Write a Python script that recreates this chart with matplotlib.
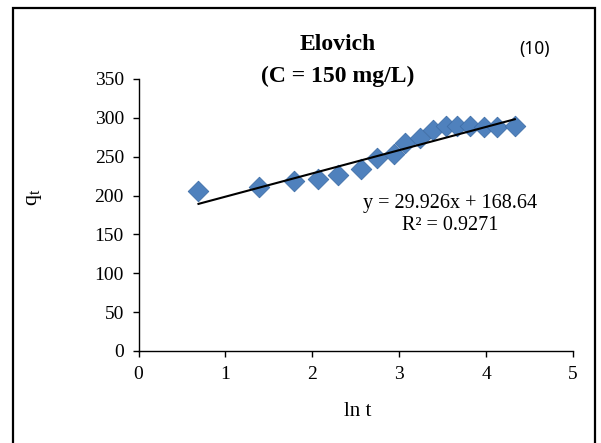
import numpy as np
import matplotlib
matplotlib.use('Agg')
import matplotlib.pyplot as plt
from matplotlib.patches import Rectangle

# ln t values and measured q_t
ln_t = [0.69, 1.39, 1.79, 2.07, 2.29, 2.56, 2.75, 2.94, 3.07,
        3.24, 3.39, 3.54, 3.67, 3.81, 3.98, 4.13, 4.33]
q_t = [206, 211, 219, 221, 226, 234, 248, 254, 267,
       274, 285, 289, 289, 290, 288, 288, 289]

# linear trendline as reported on the chart
slope = 29.926
intercept = 168.64
r_squared = 0.9271

x_ticks = [0, 1, 2, 3, 4, 5]
y_ticks = [0, 50, 100, 150, 200, 250, 300, 350]

plt.rcParams['font.family'] = ['Liberation Serif', 'DejaVu Serif']

fig = plt.figure(figsize=(6.01, 4.43), dpi=100)
ax = fig.add_axes([0.2305, 0.2077, 0.7229, 0.614])

ax.scatter(ln_t, q_t, marker='D', s=110, color='#4f81bd',
           edgecolors='#3f6fa8', linewidths=0.6, zorder=3)

x_fit = np.array([min(ln_t), max(ln_t)])
ax.plot(x_fit, slope * x_fit + intercept, color='black', lw=1.5, zorder=4)

ax.set_xlim(0, 5)
ax.set_ylim(0, 350)
ax.set_xticks(x_ticks)
ax.set_yticks(y_ticks)
ax.spines['top'].set_visible(False)
ax.spines['right'].set_visible(False)
for s in ['left', 'bottom']:
    ax.spines[s].set_linewidth(1.0)
ax.tick_params(axis='both', direction='out', length=4.5, width=1.0,
               labelsize=14, pad=6)

fig.text(450 / 601, 1 - 203 / 443, 'y = %.3fx + %.2f' % (slope, intercept),
         ha='center', va='center', fontsize=14.5)
fig.text(450 / 601, 1 - 225 / 443, 'R² = %.4f' % r_squared,
         ha='center', va='center', fontsize=14.5)

fig.text(338 / 601, 1 - 45 / 443, 'Elovich', ha='center', va='center',
         fontsize=17, fontweight='bold')
fig.text(338 / 601, 1 - 76 / 443, '(C = 150 mg/L)', ha='center', va='center',
         fontsize=17, fontweight='bold')
fig.text(535 / 601, 1 - 49 / 443, '(10)', ha='center', va='center',
         fontsize=12.5, family=['Noto Sans', 'DejaVu Sans'])

fig.text(358 / 601, 1 - 412 / 443, 'ln t', ha='center', va='center', fontsize=15)
fig.text(35 / 601, 1 - 197 / 443, r'q$_\mathregular{t}$', ha='center', va='center',
         fontsize=16, rotation=90)

# outer frame of the chart area
fig.patches.append(Rectangle((13 / 601, -0.05), (595 - 13) / 601, 1.05 - 8 / 443,
                             transform=fig.transFigure, fill=False,
                             edgecolor='black', lw=1.6))

fig.savefig('out.png', dpi=100)
